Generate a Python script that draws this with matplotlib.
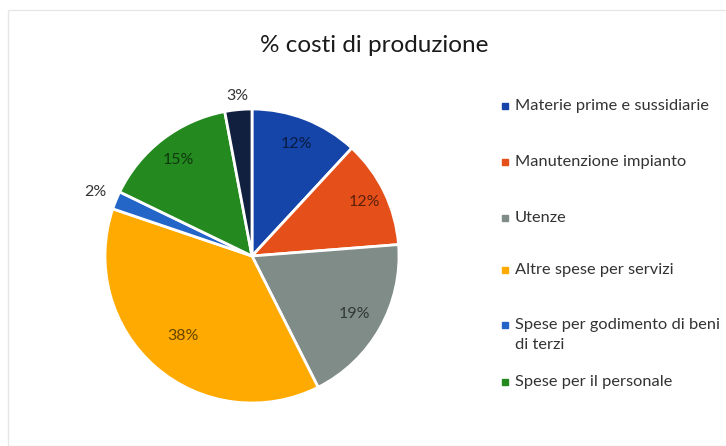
import matplotlib
matplotlib.use("Agg")
import numpy as np
import matplotlib.pyplot as plt
from matplotlib.patches import Rectangle

# data
categories = ["Materie prime e sussidiarie", "Manutenzione impianto", "Utenze",
              "Altre spese per servizi", "Spese per godimento di beni\ndi terzi",
              "Spese per il personale", "Altro"]
values = [12, 12, 19, 38, 2, 15, 3]
colors = ["#1545A8", "#E5501A", "#7F8C88", "#FFAA00", "#2466C8", "#248A20", "#122040"]

plt.rcParams['font.family'] = ['Lato', 'DejaVu Sans']

fig = plt.figure(figsize=(7.26, 4.46), dpi=100)
W, H = 726.0, 446.0

# light frame of the chart area
fig.add_artist(Rectangle((8 / W, 0), 1, 1 - 10 / H, transform=fig.transFigure,
                         fill=False, edgecolor="#e6e6e6", linewidth=1))

fig.text(374 / W, 1 - 45 / H, "% costi di produzione", ha="center", va="center",
         fontsize=17.5, color="#1a1a1a")

# pie axes, centre and radius in pixels
cx, cy, r = 252, 256, 147
ax = fig.add_axes([(cx - r) / W, 1 - (cy + r) / H, 2 * r / W, 2 * r / H])
wedges, _ = ax.pie(values, colors=colors, startangle=90, counterclock=False,
                   wedgeprops=dict(edgecolor="white", linewidth=2))
ax.set_xlim(-1, 1)
ax.set_ylim(-1, 1)
ax.set_aspect("equal")
ax.axis("off")

# data labels (Excel "best fit" style)
dist = [0.82, 0.85, 0.80, 0.72, 1.15, 0.82, 1.09]
total = float(sum(values))
start = 90.0
for i, v in enumerate(values):
    mid = start - (v / 2.0) / total * 360
    start -= v / total * 360
    a = np.deg2rad(mid)
    x, y = dist[i] * np.cos(a), dist[i] * np.sin(a)
    if dist[i] > 1:
        ax.text(x, y, "%d%%" % v, ha="center", va="center", fontsize=11.5,
                color="#333333", clip_on=False)
    else:
        ax.text(x, y, "%d%%" % v, ha="center", va="center", fontsize=11.5,
                color="black", alpha=0.6)

# legend (last category is not shown, as in the original)
leg_y = [106, 162, 218, 270, 325, 382]
for i, lab in enumerate(categories[:6]):
    y = leg_y[i]
    fig.add_artist(Rectangle(((505 - 3) / W, 1 - (y + 3) / H), 6 / W, 6 / H,
                             transform=fig.transFigure, color=colors[i]))
    if "\n" in lab:
        first, second = lab.split("\n")
        fig.text(515 / W, 1 - y / H, first, ha="left", va="center",
                 fontsize=11.8, color="#333333")
        fig.text(515 / W, 1 - (y + 20) / H, second, ha="left", va="center",
                 fontsize=11.8, color="#333333")
    else:
        fig.text(515 / W, 1 - y / H, lab, ha="left", va="center",
                 fontsize=11.8, color="#333333")

fig.savefig("out.png", dpi=100, facecolor="white")
